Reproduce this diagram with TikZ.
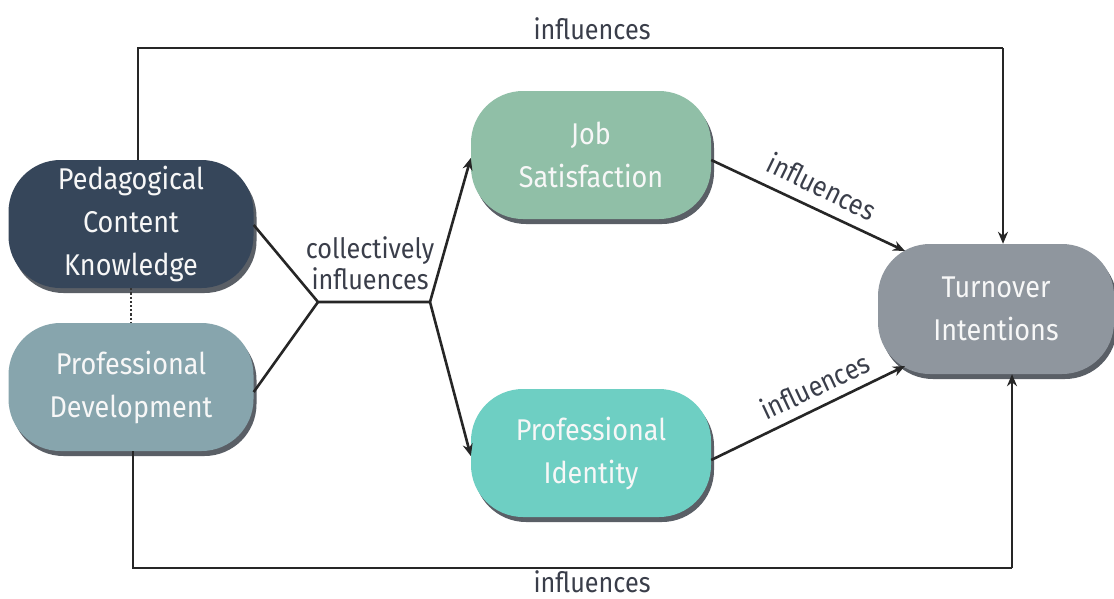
\documentclass[tikz,border=0pt]{standalone}
\usepackage{fontspec}
\setmainfont{Fira Sans}[FakeStretch=0.9]
\usetikzlibrary{shadows,arrows.meta}
\definecolor{pckcol}{HTML}{36465A}
\definecolor{pdcol}{HTML}{87A5AD}
\definecolor{jscol}{HTML}{90BFA7}
\definecolor{picol}{HTML}{6ECFC3}
\definecolor{ticol}{HTML}{8F969E}
\definecolor{labcol}{HTML}{3A3E4A}
\definecolor{shadcol}{HTML}{5A5F66}
\begin{document}
\begin{tikzpicture}[x=1pt,y=-1pt,
  box/.style={rounded corners=52pt, minimum width=245pt, minimum height=128pt,
    inner sep=0pt, align=center, text=white!94!gray,
    font=\fontsize{30}{43}\selectfont,
    drop shadow={shadow xshift=3pt, shadow yshift=-5pt, fill=shadcol, opacity=1}},
  conn/.style={line width=2.6pt, draw=black!85},
  arr/.style={conn, -{Stealth[length=12pt,width=10pt]}},
  lab/.style={text=labcol, font=\fontsize{28}{31}\selectfont, inner sep=0pt, align=center}]
\useasboundingbox (0,0) rectangle (1114,598);
\fill[white] (0,0) rectangle (1114,598);

% nodes
\node[box, fill=pckcol] (pck) at (131,224) {Pedagogical\\Content\\Knowledge};
\node[box, fill=pdcol] (pd) at (131,387) {Professional\\Development};
\node[box, fill=jscol, minimum width=240pt] (js) at (591,155) {Job\\Satisfaction};
\node[box, fill=picol, minimum width=240pt] (pi) at (591,453) {Professional\\Identity};
\node[box, fill=ticol, minimum width=236pt, minimum height=130pt] (ti) at (996,309) {Turnover\\Intentions};

% junction points
\coordinate (j1) at (318,302);
\coordinate (j2) at (430,302);

% dotted link between the two left boxes
\draw[line width=2.2pt, dotted, draw=black!80] (pck.south) -- (pd.north);

% collective influence
\draw[conn] (pck.east |- 0,225) -- (j1) -- (j2);
\draw[conn] (pd.east |- 0,392) -- (j1);
\draw[arr] (j2) -- (js.west |- 0,158);
\draw[arr] (j2) -- (pi.west |- 0,456);
\node[lab] (lc) at (370,263) {collectively\\influences};

% mediators to outcome
\draw[arr] (js.east |- 0,160) -- (905,251);
\draw[arr] (pi.east |- 0,460) -- (905,366);
\node[lab, rotate=-26] (l1) at (822,186) {influences};
\node[lab, rotate=25] (l2) at (815,386) {influences};

% direct paths
\coordinate (tl) at (138,48);
\coordinate (tr) at (1003,48);
\draw[conn] (pck.north -| tl) -- (tl) -- (tr);
\draw[arr] (tr) -- (ti.north -| tr);
\node[lab] (lt) at (592,29) {influences};

\coordinate (bl) at (133,568);
\coordinate (br) at (1012,568);
\draw[conn] (pd.south -| bl) -- (bl) -- (br);
\draw[arr] (br) -- (ti.south -| br);
\node[lab] (lb) at (592,582) {influences};
\end{tikzpicture}
\end{document}
